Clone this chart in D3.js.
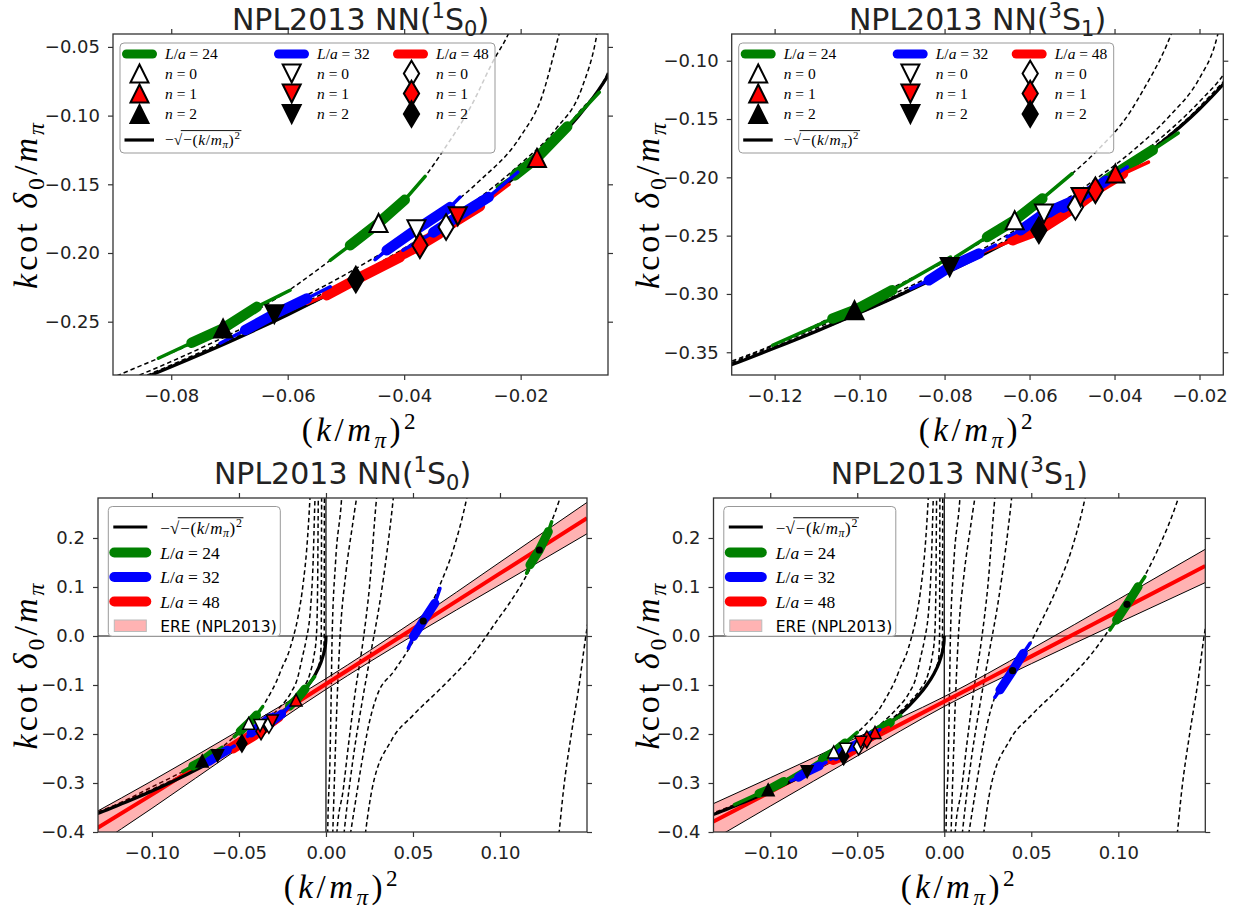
<!DOCTYPE html>
<html><head><meta charset="utf-8">
<script src="https://cdn.jsdelivr.net/npm/d3@7/dist/d3.min.js"></script>
<style>html,body{margin:0;padding:0;background:#fff;}</style>
</head><body>
<svg id="chart" width="1242" height="911"></svg>
<script>
// ================= DATA =================
// -sqrt(-(k/m)^2) curve
const sqrtCurve = [[-0.135,-0.3674],[-0.13,-0.3606],[-0.12,-0.3464],[-0.11,-0.3317],[-0.10,-0.3162],[-0.09,-0.3],[-0.08,-0.2828],[-0.07,-0.2646],[-0.06,-0.2449],[-0.05,-0.2236],[-0.04,-0.2],[-0.03,-0.1732],[-0.02,-0.1414],[-0.015,-0.1225],[-0.01,-0.1],[-0.006,-0.0775],[-0.003,-0.0548],[-0.0015,-0.0387],[-0.0005,-0.0224],[-0.0001,-0.01],[0,0]];

// Luscher (dashed) curves
const curveA = [[-0.135,-0.364],[-0.1205,-0.344],[-0.1,-0.308],[-0.088,-0.287],[-0.0711,-0.2549],[-0.0596,-0.2266],[-0.0527,-0.2053],[-0.0444,-0.1782],[-0.0364,-0.1443],[-0.0333,-0.1255],[-0.0285,-0.093],[-0.0247,-0.0602],[-0.0222,-0.0413],[-0.019,-0.005],[-0.016,0.04],[-0.013,0.11],[-0.011,0.18],[-0.0092,0.2816],[-0.0088,0.31]];
const curveB = [[-0.135,-0.366],[-0.1,-0.313],[-0.08,-0.279],[-0.06,-0.238],[-0.045,-0.203],[-0.0355,-0.1766],[-0.0272,-0.148],[-0.02,-0.115],[-0.0165,-0.088],[-0.0134,-0.0406],[-0.0115,-0.01],[-0.0088,0.06],[-0.0075,0.14],[-0.0063,0.2816],[-0.006,0.31]];
const curveC = [[-0.135,-0.3668],[-0.1,-0.315],[-0.08,-0.2815],[-0.06,-0.2425],[-0.04,-0.1965],[-0.03,-0.169],[-0.02,-0.135],[-0.014,-0.11],[-0.0095,-0.08],[-0.0069,-0.0406],[-0.0055,0.0],[-0.0048,0.1],[-0.0044,0.2816],[-0.0043,0.31]];
const curveD = [[-0.135,-0.3671],[-0.08,-0.2823],[-0.04,-0.1985],[-0.02,-0.1395],[-0.01,-0.0975],[-0.005,-0.068],[-0.0032,-0.045],[-0.0027,0.0],[-0.0025,0.2816],[-0.0024,0.31]];
const curveE = [[-0.135,-0.3673],[-0.08,-0.2826],[-0.04,-0.1995],[-0.02,-0.141],[-0.01,-0.0995],[-0.004,-0.0625],[-0.0015,-0.035],[-0.001,0.0],[-0.0009,0.2816],[-0.00085,0.31]];
const curveR1 = [[0.0008,-0.45],[0.001,-0.4],[0.0023,-0.253],[0.003,-0.12],[0.0035,-0.008],[0.0055,0.15],[0.009,0.2816],[0.0095,0.31]];
const curveR2 = [[0.0035,-0.45],[0.0048,-0.3],[0.0062,-0.15],[0.008,-0.008],[0.0115,0.13],[0.015,0.22],[0.0176,0.2816],[0.019,0.31]];
const curveR3 = [[0.0055,-0.45],[0.0063,-0.4],[0.0099,-0.314],[0.013,-0.22],[0.017,-0.11],[0.0214,-0.008],[0.025,0.1],[0.0291,0.2816],[0.030,0.31]];
const curveR3b = [[0.009,-0.45],[0.012,-0.35],[0.016,-0.24],[0.021,-0.13],[0.026,-0.03],[0.031,0.07],[0.035,0.17],[0.0387,0.2816],[0.0395,0.31]];
const curveR4 = [[0.012,-0.45],[0.016,-0.36],[0.0205,-0.26],[0.025,-0.175],[0.029,-0.125],[0.0393,-0.0708],[0.0483,-0.022],[0.0559,0.0306],[0.065,0.1],[0.0735,0.18],[0.0809,0.2816],[0.0825,0.31]];
const curveR5 = [[0.021,-0.45],[0.0264,-0.314],[0.0378,-0.212],[0.05,-0.162],[0.0665,-0.105],[0.085,-0.035],[0.1,0.04],[0.105,0.0647],[0.1226,0.1755],[0.1345,0.2816],[0.137,0.31]];
const curveR6 = [[0.1325,-0.45],[0.134,-0.4],[0.1365,-0.314],[0.141,-0.2],[0.1455,-0.1],[0.149,-0.008],[0.152,0.06]];
const luscherCurves = [curveA, curveB, curveC, curveD, curveE, curveR1, curveR2, curveR3, curveR3b, curveR4, curveR5, curveR6];

// Energy levels on the curves: [thin start, thick start, centre, thick end, thin end]
const bands1S0 = [
  {L:24,n:2,pts:[[-0.0822,-0.2766],[-0.0765,-0.2653],[-0.0711,-0.2549],[-0.0653,-0.2392],[-0.0596,-0.2271]]},
  {L:24,n:0,pts:[[-0.0527,-0.2053],[-0.0493,-0.1944],[-0.0444,-0.1782],[-0.0399,-0.1613],[-0.0364,-0.1443]]},
  {L:24,n:1,pts:[[-0.024,-0.152],[-0.021,-0.1435],[-0.0172,-0.1308],[-0.012,-0.108],[-0.0065,-0.083]]},
  {L:48,n:2,pts:[[-0.0567,-0.2367],[-0.0533,-0.2307],[-0.0483,-0.2193],[-0.0407,-0.2029],[-0.037,-0.194]]},
  {L:48,n:1,pts:[[-0.042,-0.205],[-0.04,-0.2005],[-0.0373,-0.1944],[-0.034,-0.186],[-0.03,-0.175]]},
  {L:48,n:0,pts:[[-0.041,-0.203],[-0.0385,-0.197],[-0.0328,-0.1811],[-0.027,-0.166],[-0.022,-0.15]]},
  {L:32,n:2,pts:[[-0.0716,-0.2657],[-0.0673,-0.2561],[-0.0623,-0.2445],[-0.0567,-0.2331],[-0.0527,-0.2246]]},
  {L:32,n:0,pts:[[-0.045,-0.2048],[-0.043,-0.198],[-0.0379,-0.1828],[-0.0321,-0.1666],[-0.0304,-0.1593]]},
  {L:32,n:1,pts:[[-0.0402,-0.198],[-0.035,-0.185],[-0.0308,-0.1733],[-0.0255,-0.1593],[-0.0205,-0.1412]]}
];
const bands3S1 = [
  {L:24,n:2,pts:[[-0.1205,-0.344],[-0.1064,-0.3211],[-0.1012,-0.314],[-0.0923,-0.2968],[-0.0786,-0.2683]]},
  {L:24,n:0,pts:[[-0.0774,-0.2683],[-0.07,-0.2512],[-0.0635,-0.2368],[-0.057,-0.2182],[-0.05,-0.1968]]},
  {L:24,n:1,pts:[[-0.047,-0.213],[-0.0425,-0.2035],[-0.0398,-0.1968],[-0.031,-0.1766],[-0.025,-0.162]]},
  {L:48,n:2,pts:[[-0.0719,-0.2654],[-0.064,-0.254],[-0.0578,-0.2454],[-0.052,-0.232],[-0.048,-0.224]]},
  {L:48,n:0,pts:[[-0.056,-0.24],[-0.053,-0.234],[-0.0492,-0.2254],[-0.045,-0.214],[-0.041,-0.206]]},
  {L:48,n:1,pts:[[-0.05,-0.225],[-0.047,-0.218],[-0.0445,-0.2111],[-0.038,-0.197],[-0.032,-0.187]]},
  {L:32,n:2,pts:[[-0.088,-0.2954],[-0.0837,-0.2883],[-0.0788,-0.2769],[-0.0719,-0.2654],[-0.068,-0.258]]},
  {L:32,n:0,pts:[[-0.0653,-0.2512],[-0.0621,-0.2454],[-0.0566,-0.2311],[-0.0504,-0.2212],[-0.047,-0.213]]},
  {L:32,n:1,pts:[[-0.055,-0.233],[-0.052,-0.226],[-0.048,-0.2169],[-0.042,-0.203],[-0.037,-0.1911]]}
];
const bandsPos1S0 = [
  {L:32,pts:[[0.0473,-0.025],[0.0502,-0.001],[0.0559,0.0306],[0.0626,0.067],[0.0655,0.097]]},
  {L:24,pts:[[0.1153,0.128],[0.1172,0.145],[0.1226,0.1755],[0.1278,0.213],[0.1297,0.233]]}
];
const bandsPos3S1 = [
  {L:32,pts:[[0.0291,-0.125],[0.032,-0.110],[0.0393,-0.0708],[0.0454,-0.0353],[0.0493,-0.015]]},
  {L:24,pts:[[0.0952,0.0122],[0.099,0.0327],[0.105,0.0647],[0.1114,0.1006],[0.1153,0.121]]}
];

// Effective range expansion band
const ereX      = [-0.135,-0.1,-0.05,0,0.05,0.1,0.15];
const ere1S0Mid = [-0.3997,-0.3237,-0.2109,-0.098,0.0149,0.1277,0.2406];
const ere1S0Lo  = [-0.4347,-0.3517,-0.2289,-0.109,0.0009,0.1047,0.2086];
const ere1S0Hi  = [-0.3647,-0.2957,-0.1929,-0.087,0.0289,0.1507,0.2726];
const ere3S1Mid = [-0.3829,-0.3183,-0.226,-0.1338,-0.0416,0.0507,0.143];
const ere3S1Lo  = [-0.4199,-0.3473,-0.245,-0.1438,-0.0566,0.0267,0.109];
const ere3S1Hi  = [-0.3459,-0.2893,-0.207,-0.1238,-0.0266,0.0747,0.177];

// Ticks
const ticksTLx = [-0.08,-0.06,-0.04,-0.02];
const ticksTLy = [-0.25,-0.20,-0.15,-0.10,-0.05];
const ticksTRx = [-0.12,-0.10,-0.08,-0.06,-0.04,-0.02];
const ticksTRy = [-0.35,-0.30,-0.25,-0.20,-0.15,-0.10];
const ticksBx  = [-0.10,-0.05,0.00,0.05,0.10];
const ticksBy  = [-0.4,-0.3,-0.2,-0.1,0.0,0.1,0.2];

const Lvalues = [24,32,48];
const nValues = [0,1,2];

// ================= STYLE =================
const colorL = {24:'#008000',32:'#0000ff',48:'#ff0000'};
const markerL = {24:'up',32:'down',48:'diamond'};
const fillN = {0:'#ffffff',1:'#ff0000',2:'#000000'};
const FONT_TICK = "'DejaVu Sans', sans-serif";
const FONT_MATH = "'Liberation Serif', 'DejaVu Serif', serif";

const svg = d3.select('#chart');
const defs = svg.append('defs');

function markerPath(type, s){
  const h = s/2;
  if(type==='up') return `M0,${-h}L${h},${h}L${-h},${h}Z`;
  if(type==='down') return `M0,${h}L${h},${-h}L${-h},${-h}Z`;
  const a = 0.707*s, b = 0.6*a;
  return `M0,${-a}L${b},0L0,${a}L${-b},0Z`;
}

function mtext(g, x, y, parts, size, anchor, spacing){
  const t = g.append('text').attr('x',x).attr('y',y)
    .attr('font-family',FONT_MATH).attr('font-size',size).attr('fill','#000');
  if(anchor) t.attr('text-anchor',anchor);
  if(spacing) t.attr('letter-spacing',spacing);
  let shift = 0;
  parts.forEach(p=>{
    const s = t.append('tspan').text(p.t);
    let target = 0, fs = size;
    if(p.sub){target = 0.22*size; fs = 0.7*size;}
    if(p.sup){target = -0.36*size; fs = 0.7*size;}
    if(target-shift !== 0) s.attr('dy', target-shift);
    s.attr('font-size', fs);
    if(p.i) s.attr('font-style','italic');
    if(p.f) s.attr('font-family',p.f);
    shift = target;
  });
  return t;
}

function sqrtLabel(g, x, y, size){
  const t1 = mtext(g, x, y, [{t:'−√'}], size);
  const w1 = t1.node().getComputedTextLength();
  const t2 = mtext(g, x+w1+1, y, [{t:'−('},{t:'k',i:true},{t:'/'},{t:'m',i:true},{t:'π',i:true,sub:true},{t:')'},{t:'2',sup:true}], size, null, 0.6);
  const w2 = t2.node().getComputedTextLength();
  g.append('line').attr('x1',x+w1-1.5).attr('x2',x+w1+w2+2).attr('y1',y-size*0.93).attr('y2',y-size*0.93)
    .attr('stroke','#000').attr('stroke-width',Math.max(0.8,size*0.06));
}

function drawPanel(cfg){
  const x = d3.scaleLinear().domain(cfg.xd).range(cfg.xr);
  const y = d3.scaleLinear().domain(cfg.yd).range(cfg.yr);
  const X0 = cfg.xr[0], X1 = cfg.xr[1], YB = cfg.yr[0], YT = cfg.yr[1];
  const clipId = 'clip-'+cfg.id;
  defs.append('clipPath').attr('id',clipId).append('rect')
    .attr('x',X0).attr('y',YT).attr('width',X1-X0).attr('height',YB-YT);
  const pg = svg.append('g').attr('clip-path',`url(#${clipId})`);
  const line = d3.line().x(d=>x(d[0])).y(d=>y(d[1]));
  const smooth = d3.line().x(d=>x(d[0])).y(d=>y(d[1])).curve(d3.curveMonotoneX);

  if(cfg.bottom){
    pg.append('line').attr('x1',x(0)).attr('x2',x(0)).attr('y1',YT).attr('y2',YB).attr('stroke','#000').attr('stroke-width',1.2);
    pg.append('line').attr('x1',X0).attr('x2',X1).attr('y1',y(0)).attr('y2',y(0)).attr('stroke','#000').attr('stroke-width',1.2);
  }
  // dashed Luscher curves
  luscherCurves.forEach(c=>{
    pg.append('path').attr('d',smooth(c)).attr('fill','none').attr('stroke','#000')
      .attr('stroke-width',1.5).attr('stroke-dasharray','4.5,3');
  });
  // ERE band
  if(cfg.bottom){
    const lo = cfg.ereLo, hi = cfg.ereHi, mid = cfg.ereMid;
    const area = d3.area().x((d,i)=>x(ereX[i])).y0((d,i)=>y(lo[i])).y1((d,i)=>y(hi[i])).curve(d3.curveMonotoneX);
    pg.append('path').attr('d',area(ereX)).attr('fill','#ff0000').attr('fill-opacity',0.3);
    [lo,hi].forEach(arr=>{
      pg.append('path').attr('d',smooth(ereX.map((v,i)=>[v,arr[i]]))).attr('fill','none').attr('stroke','#000').attr('stroke-width',1);
    });
    pg.append('path').attr('d',smooth(ereX.map((v,i)=>[v,mid[i]]))).attr('fill','none').attr('stroke','#ff0000').attr('stroke-width',4);
  }
  // -sqrt line
  pg.append('path').attr('d',smooth(sqrtCurve)).attr('fill','none').attr('stroke','#000').attr('stroke-width',3.2);

  // bands
  const thick = cfg.bottom ? 9 : 10.5, thin = 3.5;
  const allBands = cfg.bands.concat(cfg.posBands||[]);
  allBands.forEach(b=>{
    pg.append('path').attr('d',line(b.pts)).attr('fill','none').attr('stroke',colorL[b.L])
      .attr('stroke-width',thin).attr('stroke-linecap','round').attr('stroke-linejoin','round');
    pg.append('path').attr('d',line(b.pts.slice(1,4))).attr('fill','none').attr('stroke',colorL[b.L])
      .attr('stroke-width',thick).attr('stroke-linecap','round').attr('stroke-linejoin','round');
  });
  // markers
  const ms = cfg.bottom ? 12 : 18;
  cfg.bands.forEach(b=>{
    const c = b.pts[2];
    pg.append('path').attr('d',markerPath(markerL[b.L],ms))
      .attr('transform',`translate(${x(c[0])},${y(c[1])})`)
      .attr('fill',fillN[b.n]).attr('stroke','#000').attr('stroke-width',cfg.bottom?1.5:2).attr('stroke-linejoin','miter');
  });
  (cfg.posBands||[]).forEach(b=>{
    const c = b.pts[2];
    pg.append('circle').attr('cx',x(c[0])).attr('cy',y(c[1])).attr('r',3.6).attr('fill','#000');
  });

  // axes
  const ax = svg.append('g');
  ax.append('g').attr('transform',`translate(0,${YB})`)
    .call(d3.axisBottom(x).tickValues(cfg.xt).tickFormat(d3.format(cfg.xf)).tickSize(5).tickPadding(9));
  ax.append('g').attr('transform',`translate(0,${YT})`)
    .call(d3.axisTop(x).tickValues(cfg.xt).tickFormat('').tickSize(5));
  ax.append('g').attr('transform',`translate(${X0},0)`)
    .call(d3.axisLeft(y).tickValues(cfg.yt).tickFormat(d3.format(cfg.yf)).tickSize(5).tickPadding(8));
  ax.append('g').attr('transform',`translate(${X1},0)`)
    .call(d3.axisRight(y).tickValues(cfg.yt).tickFormat('').tickSize(5));
  ax.selectAll('.domain').remove();
  ax.selectAll('line').attr('stroke','#333').attr('stroke-width',1.2);
  ax.selectAll('text').attr('font-family',FONT_TICK).attr('font-size',18).attr('fill','#222');
  svg.append('rect').attr('x',X0).attr('y',YT).attr('width',X1-X0).attr('height',YB-YT)
    .attr('fill','none').attr('stroke','#333').attr('stroke-width',1.3);

  // title
  const cx = (X0+X1)/2;
  const tt = svg.append('text').attr('x',cx).attr('y',cfg.titleY).attr('text-anchor','middle')
    .attr('font-family',FONT_TICK).attr('font-size',30).attr('fill','#222');
  tt.append('tspan').text('NPL2013 NN(');
  tt.append('tspan').text(cfg.spin).attr('font-size',21).attr('dy',-12);
  tt.append('tspan').text('S').attr('dy',12);
  tt.append('tspan').text(cfg.sub).attr('font-size',21).attr('dy',6);
  tt.append('tspan').text(')').attr('dy',-6);

  // axis labels
  mtext(svg, cx, cfg.xlabY, [{t:'('},{t:'k',i:true},{t:'/'},{t:'m',i:true},{t:'π',i:true,sub:true},{t:')'},{t:'2',sup:true}], 33, 'middle', 3.5);
  const yg = svg.append('g').attr('transform',`translate(${cfg.ylabX},${(YT+YB)/2}) rotate(-90)`);
  mtext(yg, 0, 0, [{t:'k',i:true},{t:'cot'},{t:' δ',i:true},{t:'0',sub:true},{t:'/'},{t:'m',i:true},{t:'π',i:true,sub:true}], 34, 'middle', 3);

  if(cfg.bottom) bottomLegend(X0+10.3, YT+8.5); else topLegend(X0+7, YT+9);
}

function topLegend(x0, y0){
  const g = svg.append('g');
  g.append('rect').attr('x',x0).attr('y',y0).attr('width',375).attr('height',110).attr('rx',4)
    .attr('fill','#fff').attr('fill-opacity',0.8).attr('stroke','#999').attr('stroke-width',1);
  const cols = [{L:24,sx:2,mx:19.5,lx:45},{L:32,sx:154,mx:171.7,lx:197},{L:48,sx:273,mx:291.5,lx:316}];
  const rows = [30.5,50.5,71];
  cols.forEach(c=>{
    g.append('line').attr('x1',x0+c.sx+4.5).attr('x2',x0+c.sx+30.5).attr('y1',y0+11).attr('y2',y0+11)
      .attr('stroke',colorL[c.L]).attr('stroke-width',9).attr('stroke-linecap','round');
    mtext(g, x0+c.lx, y0+16, [{t:'L',i:true},{t:'/'},{t:'a',i:true},{t:' = '+c.L}], 15.5);
    nValues.forEach((n,i)=>{
      g.append('path').attr('d',markerPath(markerL[c.L],18)).attr('transform',`translate(${x0+c.mx},${y0+rows[i]})`)
        .attr('fill',fillN[n]).attr('stroke','#000').attr('stroke-width',2);
      mtext(g, x0+c.lx, y0+rows[i]+5, [{t:'n',i:true},{t:' = '+n}], 15.5);
    });
  });
  g.append('line').attr('x1',x0+4.5).attr('x2',x0+34).attr('y1',y0+97).attr('y2',y0+97).attr('stroke','#000').attr('stroke-width',3.2);
  sqrtLabel(g, x0+45, y0+102, 15.5);
}

function bottomLegend(x0, y0){
  const g = svg.append('g');
  g.append('rect').attr('x',x0).attr('y',y0).attr('width',172).attr('height',130).attr('rx',4)
    .attr('fill','#fff').attr('fill-opacity',0.8).attr('stroke','#999').attr('stroke-width',1);
  g.append('line').attr('x1',x0+5).attr('x2',x0+39).attr('y1',y0+20.5).attr('y2',y0+20.5).attr('stroke','#000').attr('stroke-width',3.2);
  sqrtLabel(g, x0+52, y0+27, 17);
  Lvalues.forEach((L,i)=>{
    const yy = y0+46+i*24.5;
    g.append('line').attr('x1',x0+6).attr('x2',x0+38).attr('y1',yy).attr('y2',yy)
      .attr('stroke',colorL[L]).attr('stroke-width',10).attr('stroke-linecap','round');
    mtext(g, x0+52, yy+6, [{t:'L',i:true},{t:'/'},{t:'a',i:true},{t:' = '+L}], 17.5);
  });
  g.append('rect').attr('x',x0+6).attr('y',y0+113.5).attr('width',32).attr('height',11.5)
    .attr('fill','#ffb3b3').attr('stroke','#bbb').attr('stroke-width',1);
  g.append('text').attr('x',x0+52).attr('y',y0+125).attr('font-family',FONT_TICK).attr('font-size',15.5).attr('fill','#000').text('ERE (NPL2013)');
}

drawPanel({id:'tl', xd:[-0.09,-0.005], xr:[113,608], yd:[-0.2888,-0.0406], yr:[375,34],
  xt:ticksTLx, yt:ticksTLy, xf:'.2f', yf:'.2f', bands:bands1S0, spin:'1', sub:'0',
  titleY:30, xlabY:441, ylabX:37});
drawPanel({id:'tr', xd:[-0.1301,-0.0144], xr:[731.7,1223.3], yd:[-0.3695,-0.0771], yr:[375,34],
  xt:ticksTRx, yt:ticksTRy, xf:'.2f', yf:'.2f', bands:bands3S1, spin:'3', sub:'1',
  titleY:30, xlabY:441, ylabX:659});
drawPanel({id:'bl', xd:[-0.131,0.15], xr:[98,587], yd:[-0.4,0.2816], yr:[832,498], bottom:true,
  xt:ticksBx, yt:ticksBy, xf:'.2f', yf:'.1f', bands:bands1S0, posBands:bandsPos1S0,
  ereLo:ere1S0Lo, ereHi:ere1S0Hi, ereMid:ere1S0Mid, spin:'1', sub:'0',
  titleY:484, xlabY:898, ylabX:37});
drawPanel({id:'br', xd:[-0.1326,0.15], xr:[713.5,1205.3], yd:[-0.4,0.2816], yr:[832,498], bottom:true,
  xt:ticksBx, yt:ticksBy, xf:'.2f', yf:'.1f', bands:bands3S1, posBands:bandsPos3S1,
  ereLo:ere3S1Lo, ereHi:ere3S1Hi, ereMid:ere3S1Mid, spin:'3', sub:'1',
  titleY:484, xlabY:898, ylabX:659});
</script>
</body></html>
